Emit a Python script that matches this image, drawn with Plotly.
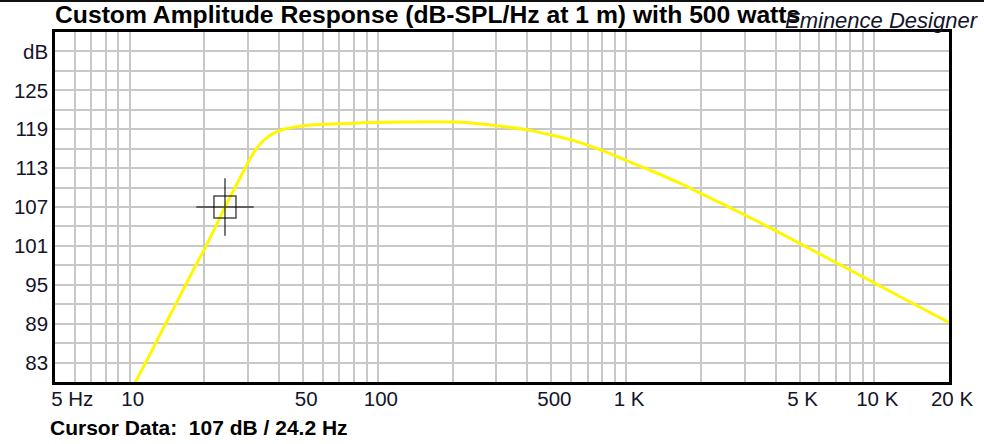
#!/usr/bin/env python3
"""Custom amplitude response of a driver at 500 W, Eminence Designer style."""
import plotly.graph_objects as go

# response curve (Hz, dB-SPL at 1 m)
FREQ_HZ = [10, 12, 14, 16, 18, 20, 22, 24.2, 27, 28.8, 31.6, 34.7, 38.1,
           41.8, 47.3, 55.2, 64.5, 75.3, 100, 125, 160, 200, 250, 300, 400,
           500, 620, 790, 1000, 1300, 1660, 2000, 3000, 4000, 5000, 6100,
           8200, 10000, 14500, 20000]
SPL_DB = [78.3, 84.1, 89.1, 93.4, 97.2, 100.5, 103.7, 107.0, 110.5, 112.6,
          115.4, 117.3, 118.4, 119.0, 119.4, 119.7, 119.8, 119.9, 120.05,
          120.1, 120.15, 120.1, 119.9, 119.55, 118.9, 118.1, 117.2, 115.8,
          114.2, 112.4, 110.6, 109.1, 105.8, 103.35, 101.4, 99.65, 97.05,
          95.3, 92.0, 89.2]

CURSOR_HZ = 24.2
CURSOR_DB = 107

# axis grid + labels
X_GRID = [5, 6, 7, 8, 9,
          10, 20, 30, 40, 50, 60, 70, 80, 90,
          100, 200, 300, 400, 500, 600, 700, 800, 900,
          1000, 2000, 3000, 4000, 5000, 6000, 7000, 8000, 9000,
          10000, 20000]
X_LABELS = {5: "\u00a0" * 5 + "5 Hz", 10: "10", 50: "50", 100: "100",
            500: "500", 1000: "1 K", 5000: "5 K", 10000: "10 K",
            20000: "20 K"}
Y_GRID = [83, 86, 89, 92, 95, 98, 101, 104, 107, 110, 113, 116, 119, 122,
          125, 128, 131]
Y_LABELS = {83: "83", 89: "89", 95: "95", 101: "101", 107: "107",
            113: "113", 119: "119", 125: "125", 131: "dB"}

FONT = "Arial, Liberation Sans, sans-serif"
TXT = "#14142a"
GRID = "#c8c8c8"

fig = go.Figure()
fig.add_trace(go.Scatter(
    x=FREQ_HZ, y=SPL_DB, mode="lines",
    line=dict(color="#fff700", width=3, shape="spline", smoothing=0.8),
    hoverinfo="skip", showlegend=False,
))
fig.add_trace(go.Scatter(
    x=[CURSOR_HZ, CURSOR_HZ], y=[CURSOR_DB, CURSOR_DB], mode="markers",
    marker=dict(symbol=["square-open", "cross-thin-open"], size=[22, 41],
                color="black", line=dict(color="black", width=1.5)),
    hoverinfo="skip", showlegend=False,
))

fig.update_layout(
    width=984, height=444,
    margin=dict(l=55, r=35, t=32, b=62),
    paper_bgcolor="white", plot_bgcolor="white",
    font=dict(family=FONT, color=TXT, size=20),
    annotations=[
        dict(text="<b>Custom Amplitude Response (dB-SPL/Hz at 1 m) with 500 watts</b>",
             xref="paper", yref="paper", x=0, y=1, xanchor="left",
             yanchor="bottom", yshift=2, xshift=-2, showarrow=False,
             font=dict(size=24.7, color="black", family=FONT)),
        dict(text="<i>Eminence Designer</i>",
             xref="paper", yref="paper", x=0.814, y=1, xanchor="left",
             yanchor="bottom", yshift=-3, showarrow=False,
             font=dict(size=22, color=TXT, family=FONT)),
        dict(text="<b>Cursor Data:\u00a0 %g dB / %g Hz</b>" % (CURSOR_DB, CURSOR_HZ),
             xref="paper", yref="paper", x=-0.008, y=-0.169, xanchor="left",
             yanchor="bottom", showarrow=False,
             font=dict(size=21, color="black", family=FONT)),
    ],
    shapes=[
        # thin dark strip along the very top of the window
        dict(type="rect", xref="paper", yref="paper", x0=-0.1, x1=1.1,
             y0=1.0857, y1=1.12,
             fillcolor="#111111", line=dict(width=0), layer="above"),
    ],
)
fig.update_xaxes(
    type="log", range=[0.69897, 4.30103],
    tickmode="array", tickvals=X_GRID,
    ticktext=[X_LABELS.get(v, "") for v in X_GRID],
    ticklabelshift=3, ticklabelstandoff=-3,
    showgrid=True, gridcolor=GRID, gridwidth=1.5,
    showline=True, mirror=True, linecolor="black", linewidth=2.5,
    ticks="", zeroline=False, tickfont=dict(size=20.5, color=TXT),
)
fig.update_yaxes(
    range=[80, 134],
    tickmode="array", tickvals=Y_GRID,
    ticktext=[Y_LABELS.get(v, "") for v in Y_GRID],
    showgrid=True, gridcolor=GRID, gridwidth=1.5,
    showline=True, mirror=True, linecolor="black", linewidth=2.5,
    ticks="", zeroline=False, tickfont=dict(size=20.5, color=TXT),
)

# drop the default 8px body margin so the figure fills the window exactly
fig.write_html("out.html", config={"displayModeBar": False},
               post_script="document.body.style.margin='0';")
